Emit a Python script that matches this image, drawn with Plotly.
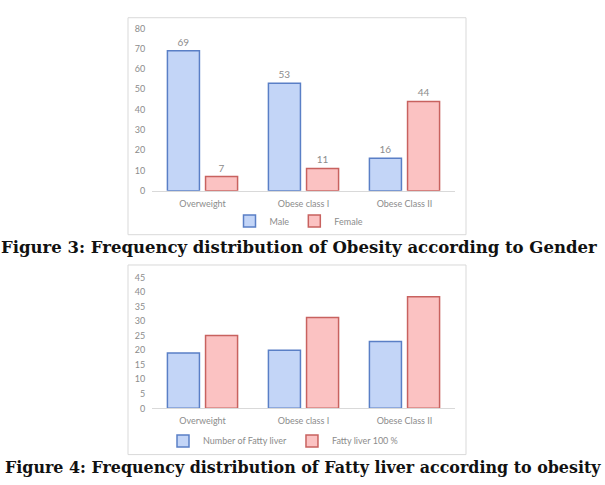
import plotly.graph_objects as go

W, H = 605, 485

categories = ["Overweight", "Obese class I", "Obese Class II"]
male = [69, 53, 16]
female = [7, 11, 44]

fatty_number = [19, 20, 23]
fatty_pct = [25, 31.25, 38.33]

caption3 = "Figure 3: Frequency distribution of Obesity according to Gender"
caption4 = "Figure 4: Frequency distribution of Fatty liver according to obesity"

BLUE_FILL = "#c3d5f7"
BLUE_LINE = "#5a7fc6"
RED_FILL = "#fbc2c2"
RED_LINE = "#c8625f"
GRAY = "#8c8c8c"
AX_FONT = dict(family="Lato, Open Sans, sans-serif", size=9, color=GRAY)


def px_x(p):
    return p / W


def px_y(p):
    return 1 - p / H


fig = go.Figure()

fig.add_trace(go.Bar(x=categories, y=male, name="Male", xaxis="x", yaxis="y",
                     marker=dict(color=BLUE_FILL, line=dict(color=BLUE_LINE, width=1.5)),
                     text=[str(v) for v in male], textposition="outside",
                     textfont=dict(family="Lato, sans-serif", size=10, color=GRAY),
                     cliponaxis=False, legend="legend"))
fig.add_trace(go.Bar(x=categories, y=female, name="Female", xaxis="x", yaxis="y",
                     marker=dict(color=RED_FILL, line=dict(color=RED_LINE, width=1.5)),
                     text=[str(v) for v in female], textposition="outside",
                     textfont=dict(family="Lato, sans-serif", size=10, color=GRAY),
                     cliponaxis=False, legend="legend"))

fig.add_trace(go.Bar(x=categories, y=fatty_number, name="Number of Fatty liver",
                     xaxis="x2", yaxis="y2",
                     marker=dict(color=BLUE_FILL, line=dict(color=BLUE_LINE, width=1.5)),
                     legend="legend2"))
fig.add_trace(go.Bar(x=categories, y=fatty_pct, name="Fatty liver 100 %",
                     xaxis="x2", yaxis="y2",
                     marker=dict(color=RED_FILL, line=dict(color=RED_LINE, width=1.5)),
                     legend="legend2"))

xdom = [px_x(152), px_x(455)]
common_x = dict(domain=xdom, showgrid=False, showline=True, linecolor="#d9d9d9",
                linewidth=1, ticks="outside", ticklen=4, tickcolor="rgba(0,0,0,0)",
                tickfont=AX_FONT, zeroline=False, fixedrange=True)
common_y = dict(showgrid=False, showline=False, zeroline=False, ticks="outside",
                ticklen=4, tickcolor="rgba(0,0,0,0)", tickfont=AX_FONT)

fig.update_layout(
    width=W, height=H,
    margin=dict(l=0, r=0, t=0, b=0),
    paper_bgcolor="white", plot_bgcolor="white",
    barmode="group", bargap=0.245, bargroupgap=0.16,
    xaxis=dict(**common_x, anchor="y"),
    yaxis=dict(**common_y, domain=[px_y(189), px_y(23)], range=[0, 80], dtick=10, anchor="x"),
    xaxis2=dict(**common_x, anchor="y2"),
    yaxis2=dict(**common_y, domain=[px_y(411.7), px_y(277.7)], range=[0, 45], dtick=5, anchor="x2"),
    legend=dict(orientation="h", x=px_x(299), y=px_y(220), xanchor="center", yanchor="middle",
                font=AX_FONT, itemwidth=30, bgcolor="rgba(0,0,0,0)"),
    legend2=dict(orientation="h", x=px_x(283), y=px_y(445), xanchor="center", yanchor="middle",
                 font=AX_FONT, itemwidth=30, bgcolor="rgba(0,0,0,0)"),
    shapes=[
        dict(type="rect", xref="paper", yref="paper", x0=px_x(128), x1=px_x(466),
             y0=px_y(234), y1=px_y(12), line=dict(color="#d9d9d9", width=1)),
        dict(type="rect", xref="paper", yref="paper", x0=px_x(128), x1=px_x(466),
             y0=px_y(459), y1=px_y(265), line=dict(color="#d9d9d9", width=1)),
    ],
    annotations=[
        dict(text="<b>" + caption3 + "</b>", xref="paper", yref="paper",
             x=px_x(299), y=px_y(247), xanchor="center", yanchor="middle", showarrow=False,
             font=dict(family="DejaVu Serif", size=16.5, color="#111111")),
        dict(text="<b>" + caption4 + "</b>", xref="paper", yref="paper",
             x=px_x(302.5), y=px_y(472), xanchor="center", yanchor="middle", showarrow=False,
             font=dict(family="DejaVu Serif", size=15.9, color="#111111")),
    ],
)

fig.write_html("out.html")
